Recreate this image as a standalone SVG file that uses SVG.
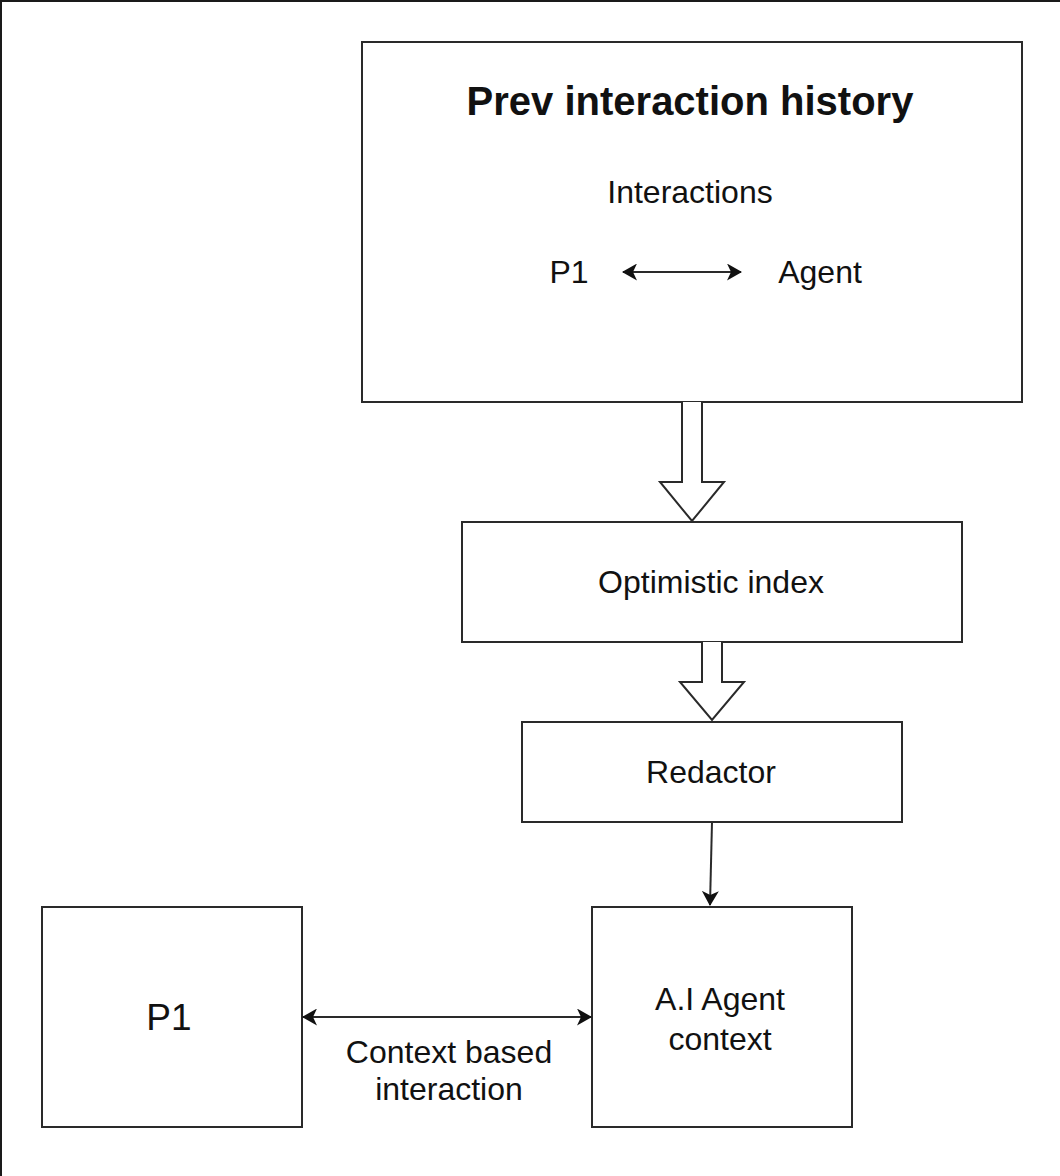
<svg xmlns="http://www.w3.org/2000/svg" width="1060" height="1176" viewBox="0 0 1060 1176">
<style>
.box{fill:#fff;stroke:#2a2a2a;stroke-width:2}
.blk{fill:#fff;stroke:#2a2a2a;stroke-width:2;stroke-linejoin:miter}
.ln{fill:none;stroke:#2a2a2a;stroke-width:2}
text{font-family:"Liberation Sans",Arial,Helvetica,sans-serif;fill:#111;text-anchor:middle}
.t{font-size:32px}
</style>
<defs>
<marker id="ah" viewBox="0 0 15 17" refX="14" refY="8.5" markerWidth="15" markerHeight="17" markerUnits="userSpaceOnUse" orient="auto-start-reverse">
<path d="M0,0 L15,8.5 L0,17 L4,8.5 Z" fill="#111"/>
</marker>
</defs>
<rect width="1060" height="1176" fill="#fff"/>
<path d="M1,1176 V1 H1060" fill="none" stroke="#1a1a1a" stroke-width="2"/>
<g id="prev-history">
<rect class="box" x="362" y="42" width="660" height="360"/>
<text x="690" y="115" font-size="40" font-weight="bold">Prev interaction history</text>
<text class="t" x="690" y="203">Interactions</text>
<text class="t" x="569" y="283">P1</text>
<text class="t" x="820" y="283">Agent</text>
</g>
<g id="optimistic-index">
<rect class="box" x="462" y="522" width="500" height="120"/>
<text class="t" x="711" y="593">Optimistic index</text>
</g>
<g id="redactor">
<rect class="box" x="522" y="722" width="380" height="100"/>
<text class="t" x="711" y="783">Redactor</text>
</g>
<g id="ai-agent-context">
<rect class="box" x="592" y="907" width="260" height="220"/>
<text class="t" x="720" y="1010">A.I Agent</text>
<text class="t" x="720" y="1050">context</text>
</g>
<g id="p1">
<rect class="box" x="42" y="907" width="260" height="220"/>
<text x="169" y="1030" font-size="37">P1</text>
</g>
<g id="connectors">
<line class="ln" x1="623" y1="272" x2="741" y2="272" marker-start="url(#ah)" marker-end="url(#ah)"/>
<path class="blk" d="M682,402 V482 H660 L692,521 L724,482 H702 V402"/>
<path class="blk" d="M702,642 V682 H680 L712,720 L744,682 H722 V642"/>
<line class="ln" x1="712" y1="822" x2="710" y2="905" marker-end="url(#ah)"/>
<line class="ln" x1="303" y1="1017" x2="591" y2="1017" marker-start="url(#ah)" marker-end="url(#ah)"/>
<text class="t" x="449" y="1063">Context based</text>
<text class="t" x="449" y="1100">interaction</text>
</g>
</svg>
